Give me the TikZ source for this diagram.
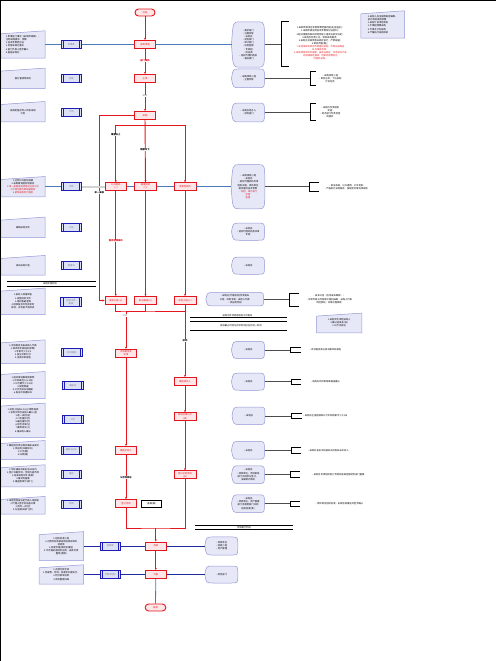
\documentclass[tikz,border=0pt]{standalone}
\usepackage{fontspec}
\usetikzlibrary{arrows.meta,backgrounds}
\newfontfamily\cjk{Noto Sans CJK SC}
\newcommand\txs{\cjk\fontsize{2.3}{3.1}\selectfont}
\newcommand\bkt[4]{\draw[bracket] (#1+#4,#2) -| (#1,#3) -- (#1+#4,#3);}
\definecolor{flowred}{HTML}{E3161E}
\definecolor{flowpink}{HTML}{FCE6E7}
\definecolor{docblue}{HTML}{1C1CB4}
\definecolor{docfill}{HTML}{DCE1F6}
\definecolor{notefill}{HTML}{E6E8F7}
\definecolor{noteline}{HTML}{9496D6}
\definecolor{steel}{HTML}{4A7AB8}
\definecolor{navy}{HTML}{1E2A9E}

\begin{document}
\begin{tikzpicture}[x=1pt,y=-1pt,
  redbox/.style={draw=flowred,fill=flowpink,line width=0.9pt,minimum width=21pt,minimum height=8pt,inner sep=0.4pt,font=\txs,text=flowred,align=center},
  endbox/.style={redbox,rounded corners=3.5pt,minimum width=20pt,minimum height=7pt},
  docbox/.style={draw=docblue,fill=docfill,line width=0.8pt,minimum width=20.7pt,minimum height=8pt,inner sep=0.4pt,font=\txs,text=gray,align=center,
    path picture={\draw[docblue,line width=0.5pt]
      ([xshift=2.2pt]path picture bounding box.north west) -- ([xshift=2.2pt]path picture bounding box.south west)
      ([xshift=-2.2pt]path picture bounding box.north east) -- ([xshift=-2.2pt]path picture bounding box.south east);}},
  note/.style={minimum width=44pt,inner sep=0.8pt,font=\txs,align=center},
  show/.style={minimum width=32.6pt,inner sep=0.5pt,font=\txs,align=center},
  notebox/.style={draw=noteline,fill=notefill,line width=0.5pt},
  showbox/.style={draw=noteline,fill=notefill,line width=0.5pt},
  lab/.style={font=\txs,fill=white,inner sep=0.3pt},
  flowline/.style={draw=flowred,line width=0.9pt},
  flow/.style={flowline,-{Stealth[length=2.2pt,width=2pt]}},
  steelline/.style={draw=steel,line width=0.7pt},
  navyline/.style={draw=navy,line width=0.8pt},
  tie/.style={draw=black!70,line width=0.6pt},
  bracket/.style={draw=black,line width=0.8pt},
  sep/.style={draw=black,line width=0.6pt}]
\useasboundingbox (0,0) rectangle (496,661);
\draw[black,line width=1.2pt] (0.6,661) -- (0.6,0.6) -- (496,0.6);

% flow
\node[endbox] (s) at (145,12.5) {开始};
\node[redbox] (r1) at (145,44.5) {采购申请};
\node[redbox] (r2) at (145,78.5) {立项};
\node[redbox] (r3) at (145,115.5) {采购};
\node[redbox,minimum width=21.5pt] (a1) at (115.8,186.7) {公开招标\\(一)};
\node[redbox,minimum width=21.5pt] (a2) at (145.5,186.7) {邀请招标\\(二)};
\node[redbox,minimum width=22pt] (a3) at (185,186.7) {竞争性谈判};
\node[redbox,minimum width=21.5pt] (b1) at (115.8,300.5) {发布公告(三)};
\node[redbox,minimum width=21.5pt] (b2) at (145.5,300.5) {发出邀请(三)};
\node[redbox,minimum width=22pt] (b3) at (185,300.5) {谈判小组(三)};
\node[redbox,minimum width=21.7pt] (m1) at (126,353.3) {评标委员会\\评审};
\node[redbox,minimum width=21.7pt] (m2) at (126,450.3) {确定中标人};
\node[redbox,minimum width=21.7pt] (m3) at (126,503.7) {签订合同};
\node[draw=black,line width=0.6pt,minimum width=20pt,minimum height=7pt,inner sep=0.4pt,font=\txs] (x1) at (151.7,503.7) {备案(案)};
\node[redbox,minimum width=22pt] (n1) at (185,381.5) {确定成交人};
\node[redbox,minimum width=22pt] (n2) at (185,416.7) {成交结果公示\\(四)};
\node[redbox,minimum width=22pt] (n3) at (185,474.8) {签订采购合同\\(五)};
\node[redbox,minimum width=21.7pt] (f1) at (155.8,546) {验收};
\node[redbox,minimum width=21.7pt] (f2) at (155.8,574.5) {付款};
\node[endbox,minimum width=20.7pt] (e) at (155.5,607.5) {结束};

\coordinate (j1) at (145,125);
\coordinate (lft) at (99.3,115.5);
\coordinate (j3) at (126,311);
\coordinate (j4) at (155.8,528);

\draw[flow] (s) -- (r1);
\draw[flow] (r1) -- (r2);
\draw[flow] (r2) -- (r3);
\draw[flow] (r3) -- (a2);
\draw[flow] (j1) -| (a1);
\draw[flow] (j1) -| (a3);
\draw[flow] (r3) -- (lft) |- (b1);
\draw[flow] (a1) -- (b1);
\draw[flow] (a2) -- (b2);
\draw[flow] (a3) -- (b3);
\draw[flowline] (b1) |- (j3) -| (b3);
\draw[flowline] (b2) |- (j3);
\draw[flow] (j3) -- (m1);
\draw[flow] (b3) -- (n1);
\draw[flow] (m1) -- (m2);
\draw[flow] (m2) -- (m3);
\draw[flow] (n1) -- (n2);
\draw[flow] (n2) -- (n3);
\draw[flowline] (m3) |- (j4) -| (n3);
\draw[flow] (j4) -- (f1);
\draw[flow] (f1) -- (f2);
\draw[steelline,line width=0.8pt] (f2) -- (e);

\node[lab,text=flowred,font=\txs\bfseries] (l1) at (145,61) {部门审核};
\node[lab,text=gray] (l2) at (145,96) {通过};
\node[lab,font=\txs\bfseries] (l3) at (115.8,135) {限额以上};
\node[lab,font=\txs\bfseries] (l4) at (145,150) {限额以下};
\node[lab,font=\txs\bfseries] (l5) at (99.3,192.7) {单一来源};
\node[lab,text=flowred,font=\txs\bfseries] (l6) at (115.8,241) {需资格预审的};
\node[lab,text=gray] (l7) at (125,315.7) {开标};
\node[lab,font=\txs\bfseries] (l8) at (185,340.7) {谈判};
\node[lab,font=\txs\bfseries] (l9) at (126,477.3) {公示无异议};

% documents
\node[docbox] (p1) at (71.3,44.5) {申请表};
\node[docbox] (p2) at (71.3,78.3) {批复};
\node[docbox] (p3) at (71.3,112) {计划};
\node[docbox] (p4) at (71.3,186.7) {文件};
\node[docbox] (p5) at (71.3,227.7) {公告};
\node[docbox] (p6) at (71.3,265.7) {邀请书};
\node[docbox,minimum height=9pt] (p7) at (71,301.7) {招标文件\\备案};
\node[docbox] (p8) at (71.8,352.7) {评标报告};
\node[docbox] (p9) at (72.8,385.3) {通知书};
\node[docbox] (p10) at (72.8,419.3) {公示};
\node[docbox] (p11) at (71.3,450) {通知书(书)};
\node[docbox] (p12) at (71.3,474) {报告};
\node[docbox] (p13) at (71.3,504) {合同};
\node[docbox] (p14) at (110.3,546) {验收单};
\node[docbox] (p15) at (110.3,574.5) {付款单(单)};

% notes on the left
\node[note,minimum height=27pt,align=left] (c1) at (23,44.5) {1.申请部门填写《采购申请表》，\\注明采购需求、预算\\2.技术参数经论证\\3.资金来源已落实\\4.部门负责人签字确认\\5.报送采购办};
\node[note,minimum height=20pt] (c2) at (23,78.3) {报分管领导审批};
\node[note,minimum height=20pt] (c3) at (23,111.7) {按规定程序列入年度采购\\计划};
\node[note,minimum height=20pt] (c4) at (23,186.7) {1.达到公开招标限额\\2.采用邀请招标须报批\\\textcolor{flowred}{3.单一来源采购须经论证并公示}\\\textcolor{flowred}{4.不得化整为零规避招标}\\\textcolor{flowred}{5.紧急采购另行报批}};
\node[note,minimum height=20pt] (c5) at (23,227.3) {编制采购文件};
\node[note,minimum height=19.3pt] (c6) at (23,265.3) {发布采购公告};
\node[note,minimum height=26pt] (c7) at (23,301.3) {1.投标人资格审查\\2.发售招标文件\\3.组织答疑澄清\\4.接收投标文件并密封\\保存，开标前不得开启};
\node[note,minimum height=23.3pt] (c8) at (23,351.7) {1.评标委员会由采购人代表\\2.和评审专家组成(单数)\\3.专家不少于2/3\\4.独立评审打分\\5.出具评审报告};
\node[note,minimum height=26.6pt] (c9) at (23,385) {1.按评审结果排序推荐\\2.中标候选人(1-3名)\\3.公示期不少于3日\\4.接受质疑\\5.公示无异议后确定\\6.发出中标通知书};
\node[note,minimum height=34pt] (c10) at (23,420.3) {1.谈判小组由3人以上单数组成\\2.谈判文件经采购人确认(含)\\3.逐一谈判(谈)\\4.二轮报价(价)\\5.最后报价(价)\\6.综合评审(分)\\7.推荐成交(人)\\8.报采购人确认};
\node[note,minimum height=18.6pt] (c11) at (23,450) {1.确定成交供应商并通知未成交\\2.供应商(书面形式)\\3.公示(期)\\4.归档(案)};
\node[note,minimum height=21.7pt] (c12) at (23,475.8) {1.中标通知书发出后30日内\\2.签订书面合同，合同内容不得\\3.违背采购文件(条款)\\4.报财务备案\\5.报监察审计(部门)};
\node[note,minimum height=17.3pt] (c13) at (23,505.3) {1.采购合同由法定代表人或授权\\2.代理人签字并加盖公章\\3.合同一式(份)\\4.分送相关部门(存)};
\node[note,minimum height=28.3pt] (c14) at (61.3,546) {1.组织验收小组\\2.对照合同条款逐项验收并填写\\验收单\\3.验收合格(附检测报告)\\4.不合格的退回供应商，由其负责\\整改(更换)};
\node[note,minimum height=19pt] (c15) at (61.3,574.5) {1.办理付款手续\\2.凭发票、合同、验收单办理支付，\\3.附付款审批单\\4.资料整理归档};
\node[note,minimum width=43.3pt,minimum height=27pt,align=left] (t1) at (382.7,24.5) {1.采购人应当按照规定编制、\\执行政府采购预算\\2.采购计划须经审批\\3.不得超预算采购\\4.不得无计划采购\\5.严格执行采购目录};
\node[note,minimum width=45pt,minimum height=19.4pt] (t2) at (339.2,323) {1.采购文件须经采购人\\2.确认后发布(布)\\3.公示无异议};

% roles
\node[show,minimum height=45pt] (d1) at (248,44.5) {•需求部门\\•分管领导\\•采购办\\•财务部门\\•审计部门\\•纪检监察\\•专家组\\•供应商\\•招标代理机构及\\•相关部门};
\node[show,minimum height=18.3pt] (d2) at (248,78.3) {•采购领导小组\\•主管领导};
\node[show,minimum height=18.4pt] (d3) at (248,112.5) {•采购办经办人\\•财务部门};
\node[show,minimum width=33.3pt,minimum height=43.7pt] (d4) at (248,186.7) {•采购领导小组\\•采购办\\•招标代理机构负责\\组织实施，项目单位\\配合提供技术参数\\\textcolor{flowred}{•纪检、审计部门}\\\textcolor{flowred}{全程}\\\textcolor{flowred}{监督}};
\node[show,minimum height=16.7pt] (d5) at (248,231.7) {•采购办\\•招标代理机构及评审\\专家};
\node[show,minimum height=16.7pt] (d6) at (248,265.7) {•采购办};
\node[show,minimum width=57.3pt,minimum height=13pt] (d7) at (234.7,299.2) {•采购办(代理机构)负责发布\\公告，评审专家、采购人代表\\•供应商参加};
\node[show,minimum height=16.7pt] (d8) at (248,350) {•采购办};
\node[show,minimum height=16.7pt] (d9) at (248,381.7) {•采购办};
\node[show,minimum height=17pt] (d10) at (248.5,415.8) {•采购办};
\node[show,minimum height=17.3pt] (d11) at (248,450.3) {•采购办};
\node[show,minimum height=17.3pt] (d12) at (248,474.7) {•采购办\\•项目单位、合同审核\\部门共同参与签订，\\法律顾问审核};
\node[show,minimum height=17.3pt] (d13) at (248,503.7) {•采购办\\•项目单位、资产管理\\部门及使用部门共同\\组织验收(收)};
\node[show,minimum height=17.7pt] (d14) at (221.3,546) {•项目单位\\•验收小组\\•资产管理};
\node[show,minimum height=16.6pt] (d15) at (221.3,574.5) {•财务部门};

\draw[steelline] (c1) -- (p1) -- (r1) -- (d1);
\draw[steelline] (c4) -- (p4);
\draw[gray!35,line width=1.6pt] (p4) -- (a1);
\draw[steelline] (a1) -- (a2) -- (a3) -- (d4);
\draw[navyline] (c14) -- (p14) -- (f1) -- (d14);
\draw[navyline] (c15) -- (p15) -- (f2) -- (d15);

% remarks
\coordinate (k1) at (281.7,44.5);
\coordinate (k2) at (310,78.3);
\coordinate (k3) at (310,112.5);
\coordinate (k4) at (309.3,186.7);
\coordinate (k7) at (289.3,299.2);
\coordinate (k8) at (290.7,350);
\coordinate (k9) at (291,381.7);
\coordinate (k10) at (291.7,415.8);
\coordinate (k11) at (291,450.3);
\coordinate (k12) at (290,474.7);
\coordinate (k13) at (290,503.7);
\foreach \i in {1,2,3,4,7,8,9,10,11,12,13} {\draw[tie] (d\i) -- (k\i);}
\bkt{281.7}{21}{66}{7.5}
\bkt{310}{71.7}{85}{6}
\bkt{310}{103}{120.5}{6}
\bkt{309.3}{182.3}{191}{10}
\bkt{289.3}{293.3}{306}{10}
\bkt{290.7}{347.3}{352.7}{10}
\bkt{291}{379}{384.3}{10}
\bkt{291.7}{413.3}{418.5}{10}
\bkt{291}{447.7}{453}{10}
\bkt{290}{471.7}{477.3}{10}
\bkt{290}{501}{506.5}{10}
\node[font=\txs,align=center,inner sep=0] (w1) at (320.5,43.5) {1.采购申请须在年度预算范围内提出(含追加)；\\2.采购申请应附技术参数及论证材料；\\3.超过限额标准的须经领导小组会议研究决定；\\4.采购办负责汇总、审核采购需求；\\5.采购方式按照有关规定执行，严禁规避；\\6.审批流程(程)；\\\textcolor{flowred}{7.未经审批的项目不得组织采购，不得先采购后}\\\textcolor{flowred}{补办审批手续；}\\\textcolor{flowred}{8.采购项目须符合国家、省有关规定，涉及进口产品}\\\textcolor{flowred}{的须按规定报批，经审核同意后方}\\\textcolor{flowred}{可组织采购。}};
\node[font=\txs,align=center,inner sep=0] (w2) at (330,78.3) {•采购领导小组\\•审批立项，下达采购\\计划任务};
\node[font=\txs,align=center,inner sep=0] (w3) at (330,112) {•采购办负责组织\\实施\\•财务部门负责资金\\的落实};
\node[font=\txs,align=center,inner sep=0] (w4) at (347,186.7) {•依法依规，公开透明，公平竞争；\\严格执行采购程序，按规定时限完成采购};
\node[font=\txs,align=center,inner sep=0] (w7) at (329,299.2) {•发布公告（信息发布媒体）；\\•评审专家从专家库中随机抽取，采购人代表\\须经授权；评审过程保密};
\node[font=\txs,inner sep=0] (w8) at (325,350) {•评标委员会出具书面评标报告};
\node[font=\txs,inner sep=0] (w9) at (325,381.7) {•采购办将评审结果报送确认};
\node[font=\txs,inner sep=0] (w10) at (325,415.8) {•采购办在指定媒体公示中标结果不少于1日};
\node[font=\txs,inner sep=0] (w11) at (328,450.3) {•采购办发出中标通知书并告知未中标人};
\node[font=\txs,inner sep=0] (w12) at (338,474.5) {•采购办负责组织签订合同并按规定报财务部门备案};
\node[font=\txs,inner sep=0] (w13) at (339,503.8) {•项目单位组织验收，出具验收报告并签字确认};

% separators
\draw[sep] (6.7,281.7) -- (95.7,281.7) (6.7,286) -- (95.7,286);
\node[font=\txs,inner sep=0] (g1) at (50,283.9) {采购实施阶段};
\draw[sep] (190,317.5) -- (287,317.5) (190,321.7) -- (287,321.7) (190,330) -- (287,330);
\node[font=\txs,inner sep=0] (g2) at (237.5,315.6) {采购文件须经审核后方可发布};
\node[font=\txs,inner sep=0] (g3) at (241,326) {投标截止时间与开标时间应当为同一时间};
\draw[sep] (195,525.7) -- (293.3,525.7) (195,529) -- (293.3,529);
\node[font=\txs,inner sep=0] (g4) at (244,527.4) {合同履行阶段};

\begin{scope}[on background layer]
\foreach \n in {c1,c2,c3,c4,c5,c6,c7,c8,c9,c10,c11,c12,c13,c14,c15,t1,t2}
  {\draw[notebox] (\n.south west) -- ([yshift=-3pt]\n.north west) -- (\n.north east) -- (\n.south east) -- cycle;}
\foreach \n in {d1,d2,d3,d4,d5,d6,d7,d8,d9,d10,d11,d12,d13,d14,d15}
  {\draw[showbox] (\n.west) .. controls ([xshift=1.5pt]\n.north west) .. ([xshift=8pt]\n.north west)
     -- ([xshift=-6pt]\n.north east) .. controls (\n.north east) .. (\n.east)
     .. controls (\n.south east) .. ([xshift=-6pt]\n.south east)
     -- ([xshift=8pt]\n.south west) .. controls ([xshift=1.5pt]\n.south west) .. (\n.west) -- cycle;}
\end{scope}
\end{tikzpicture}
\end{document}
